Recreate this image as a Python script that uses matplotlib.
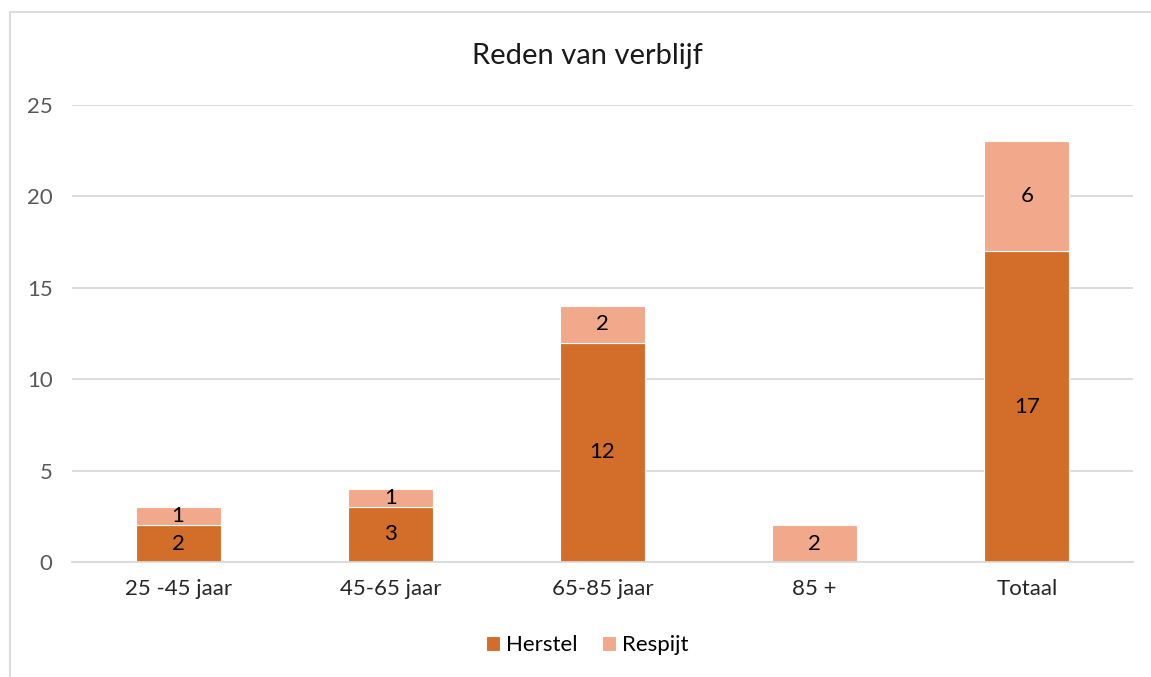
import matplotlib.pyplot as plt
from matplotlib.patches import Rectangle

categories = ["25 -45 jaar", "45-65 jaar", "65-85 jaar", "85 +", "Totaal"]
herstel = [2, 3, 12, 0, 17]
respijt = [1, 1, 2, 2, 6]

plt.rcParams['font.family'] = ['Lato', 'DejaVu Sans']

fig = plt.figure(figsize=(11.51, 6.77), dpi=100)
ax = fig.add_axes([0.0626, 0.170, 0.9217, 0.675])

x = range(len(categories))
b1 = ax.bar(x, herstel, width=0.4, color="#D26E2A", edgecolor="white", linewidth=0.8, label="Herstel")
b2 = ax.bar(x, respijt, width=0.4, bottom=herstel, color="#F2A98B", edgecolor="white", linewidth=0.8, label="Respijt")

# data labels in the middle of each segment
for i in x:
    if herstel[i] > 0:
        ax.text(i, herstel[i] / 2, str(herstel[i]), ha="center", va="center", fontsize=16, color="black")
    if respijt[i] > 0:
        ax.text(i, herstel[i] + respijt[i] / 2, str(respijt[i]), ha="center", va="center", fontsize=16, color="black")

ax.set_xlim(-0.5, len(categories) - 0.5)
ax.set_ylim(0, 25)
ax.set_yticks([0, 5, 10, 15, 20, 25])
ax.set_xticks(list(x))
ax.set_xticklabels(categories)
ax.tick_params(axis="both", length=0, labelsize=16, labelcolor="#595959")
ax.tick_params(axis="x", pad=12, labelcolor="#262626")
ax.tick_params(axis="y", pad=14)
ax.grid(axis="y", color="#D9D9D9", linewidth=1.3)
ax.set_axisbelow(True)
for s in ["top", "right", "left"]:
    ax.spines[s].set_visible(False)
ax.spines["bottom"].set_color("#D9D9D9")
ax.spines["bottom"].set_linewidth(1.3)

fig.text(0.51, 0.918, "Reden van verblijf", ha="center", va="center", fontsize=21, color="#1a1a1a")

fig.legend(handles=[b1, b2], loc="center", bbox_to_anchor=(0.51, 0.047), ncol=2, frameon=False,
           fontsize=16, handlelength=0.65, handleheight=0.65, handletextpad=0.25, columnspacing=1.1)

# chart border
fig.add_artist(Rectangle((10 / 1151, -0.05), 1.2, 1 - 12 / 677 + 0.05, transform=fig.transFigure,
                         fill=False, edgecolor="#D9D9D9", linewidth=1.3))

fig.savefig("out.png", dpi=100)
